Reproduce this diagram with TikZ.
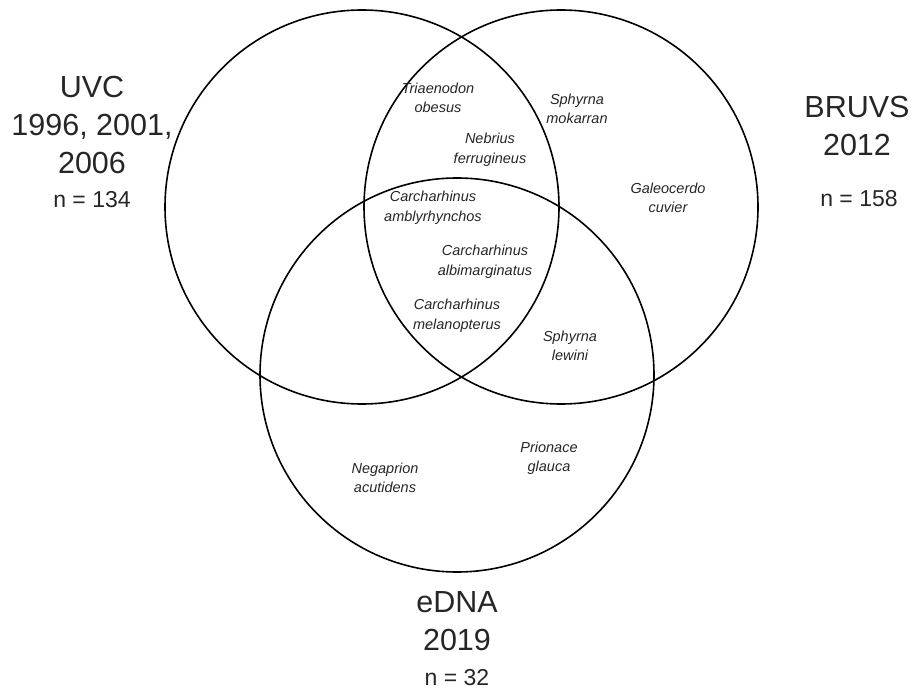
\documentclass[tikz,border=0pt]{standalone}
\usepackage{fontspec}
\setmainfont{Liberation Sans}
\usetikzlibrary{positioning}

\begin{document}
\begin{tikzpicture}[x=1pt, y=-1pt, align=center]
    \tikzset{
        set/.style      =   { circle
                            , draw=black
                            , line width=1.6pt
                            , minimum size=394pt
                            , inner sep=0pt
        }
        , title/.style  =   { font=\fontsize{30.5}{38}\selectfont
                            , text=black!85
                            , inner sep=0pt
        }
        , count/.style  =   { font=\fontsize{23}{28}\selectfont
                            , text=black!85
                            , inner sep=0pt
        }
        , sp/.style     =   { font=\fontsize{14.5}{19.5}\selectfont\itshape
                            , text=black!85
                            , inner sep=0pt
        }
    }
    \useasboundingbox (0,0) rectangle (911,690);

    % the three surveys
    \node(uvc)[set]   at (362,207) {};
    \node(bruvs)[set] at (561,207) {};
    \node(edna)[set]  at (457,375) {};

    \node(uvct)[title] at (92,125)  {UVC\\1996, 2001,\\2006};
    \node(uvcn)[count] at (92,200)  {n = 134};
    \node(brut)[title] at (857,126) {BRUVS\\2012};
    \node(brun)[count] at (859,199) {n = 158};
    \node(ednt)[title] at (457,621) {eDNA\\2019};
    \node(ednn)[count] at (457,678) {n = 32};

    % species
    \node(tri)[sp]  at (438,98)  {Triaenodon\\obesus};
    \node(neb)[sp]  at (490,150) {Nebrius\\ferrugineus};
    \node(smok)[sp] at (577,109) {Sphyrna\\mokarran};
    \node(gal)[sp]  at (668,198) {Galeocerdo\\cuvier};
    \node(amb)[sp]  at (433,208) {Carcharhinus\\amblyrhynchos};
    \node(alb)[sp]  at (485,262) {Carcharhinus\\albimarginatus};
    \node(mel)[sp]  at (457,316) {Carcharhinus\\melanopterus};
    \node(lew)[sp]  at (570,346) {Sphyrna\\lewini};
    \node(pri)[sp]  at (549,458) {Prionace\\glauca};
    \node(neg)[sp]  at (385,478) {Negaprion\\acutidens};
\end{tikzpicture}
\end{document}
